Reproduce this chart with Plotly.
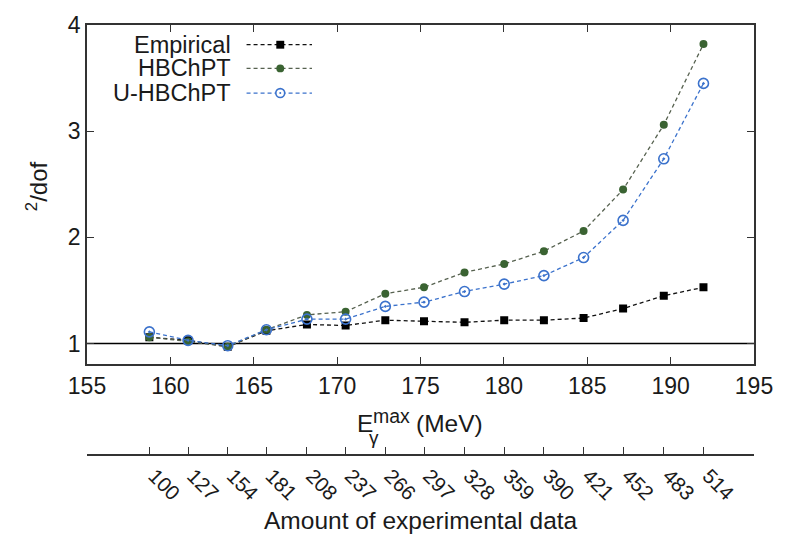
import plotly.graph_objects as go

# ---------------- data ----------------
E_max = [158.74, 161.06, 163.44, 165.76, 168.19, 170.51, 172.89, 175.21,
         177.64, 180.02, 182.40, 184.78, 187.15, 189.59, 191.97]
n_data = ["100", "127", "154", "181", "208", "237", "266", "297",
          "328", "359", "390", "421", "452", "483", "514"]
empirical = [1.06, 1.03, 0.97, 1.12, 1.18, 1.17, 1.22, 1.21,
             1.20, 1.22, 1.22, 1.24, 1.33, 1.45, 1.53]
hbchpt = [1.06, 1.02, 0.97, 1.13, 1.27, 1.30, 1.47, 1.53,
          1.67, 1.75, 1.87, 2.06, 2.45, 3.06, 3.82]
u_hbchpt = [1.11, 1.03, 0.98, 1.13, 1.23, 1.23, 1.35, 1.39,
            1.49, 1.56, 1.64, 1.81, 2.16, 2.74, 3.45]
series_names = ["Empirical", "HBChPT", "U-HBChPT"]
x_ticks = [155, 160, 165, 170, 175, 180, 185, 190, 195]
y_ticks = [1, 2, 3, 4]

# ---------------- style ----------------
W, H = 785, 534
L, R, T, B = 87, 25, 19, 79
PLOT_BOTTOM = 363
FONT = "Liberation Sans, Arial, Helvetica, sans-serif"
TXT = "#1a1a1a"
AX = "#333333"
C_EMP, L_EMP = "#000000", "#111111"
C_HB, L_HB = "#3a6332", "#56614f"
C_U, L_U = "#3b72cc", "#3b72cc"
DASH = "4px,3px"


def px(xp):
    return (xp - L) / (W - L - R)


def py(yp):
    return (H - B - yp) / (H - T - B)


ydom0 = (H - B - PLOT_BOTTOM) / (H - T - B)

fig = go.Figure()
fig.add_trace(go.Scatter(
    x=E_max, y=empirical, mode="lines+markers", name=series_names[0],
    line=dict(color=L_EMP, width=1.3, dash=DASH),
    marker=dict(symbol="square", size=8, color=C_EMP)))
fig.add_trace(go.Scatter(
    x=E_max, y=hbchpt, mode="lines+markers", name=series_names[1],
    line=dict(color=L_HB, width=1.3, dash=DASH),
    marker=dict(symbol="circle", size=8, color=C_HB)))
fig.add_trace(go.Scatter(
    x=E_max, y=u_hbchpt, mode="lines+markers", name=series_names[2],
    line=dict(color=L_U, width=1.3, dash=DASH),
    marker=dict(symbol="circle-open-dot", size=10, color=C_U,
                line=dict(width=1.6, color=C_U))))
# invisible trace carrying the secondary (data amount) axis
fig.add_trace(go.Scatter(
    x=E_max, y=empirical, xaxis="x2", mode="markers",
    marker=dict(opacity=0), hoverinfo="skip", showlegend=False))

shapes = [dict(type="line", xref="paper", yref="y", x0=0, x1=1, y0=1, y1=1,
               line=dict(color="black", width=1.4), layer="below")]
annotations = []

# custom gnuplot-style legend (text left, sample right)
leg_rows = [39, 63, 88]
leg_cols = [(C_EMP, L_EMP, "square"), (C_HB, L_HB, "circle"), (C_U, L_U, "open")]
for name, yrow, (mc, lc, sym) in zip(series_names, leg_rows, leg_cols):
    annotations.append(dict(
        text=name, xref="paper", yref="paper", x=px(234), y=py(yrow),
        xanchor="right", yanchor="middle", showarrow=False,
        font=dict(family=FONT, size=23.5, color=TXT)))
    shapes.append(dict(type="line", xref="paper", yref="paper",
                       x0=px(248), x1=px(314), y0=py(yrow), y1=py(yrow),
                       line=dict(color=lc, width=1.3, dash=DASH)))
    cx = 282
    if sym == "square":
        shapes.append(dict(type="rect", xref="paper", yref="paper",
                           x0=px(cx - 4), x1=px(cx + 4), y0=py(yrow + 4), y1=py(yrow - 4),
                           fillcolor=mc, line=dict(width=0)))
    elif sym == "circle":
        shapes.append(dict(type="circle", xref="paper", yref="paper",
                           x0=px(cx - 4), x1=px(cx + 4), y0=py(yrow + 4), y1=py(yrow - 4),
                           fillcolor=mc, line=dict(width=0)))
    else:
        shapes.append(dict(type="circle", xref="paper", yref="paper",
                           x0=px(cx - 4.5), x1=px(cx + 4.5), y0=py(yrow + 4.5), y1=py(yrow - 4.5),
                           fillcolor="white", line=dict(color=mc, width=1.6)))
        shapes.append(dict(type="circle", xref="paper", yref="paper",
                           x0=px(cx - 1), x1=px(cx + 1), y0=py(yrow + 1), y1=py(yrow - 1),
                           fillcolor=mc, line=dict(width=0)))

# axis titles
annotations += [
    dict(text="<sup>2</sup>/dof", xref="paper", yref="paper", x=px(36), y=py(182),
         textangle=-90, showarrow=False, xanchor="center", yanchor="middle",
         font=dict(family=FONT, size=24, color=TXT)),
    dict(text="E", xref="paper", yref="paper", x=px(367), y=py(423),
         showarrow=False, xanchor="center", yanchor="middle",
         font=dict(family=FONT, size=24.5, color=TXT)),
    dict(text="γ", xref="paper", yref="paper", x=px(377), y=py(437),
         showarrow=False, xanchor="center", yanchor="middle",
         font=dict(family=FONT, size=19, color=TXT)),
    dict(text="max", xref="paper", yref="paper", x=px(394), y=py(415),
         showarrow=False, xanchor="center", yanchor="middle",
         font=dict(family=FONT, size=19.5, color=TXT)),
    dict(text="(MeV)", xref="paper", yref="paper", x=px(453), y=py(423),
         showarrow=False, xanchor="center", yanchor="middle",
         font=dict(family=FONT, size=24.5, color=TXT)),
    dict(text="Amount of experimental data", xref="paper", yref="paper",
         x=px(424), y=py(521), showarrow=False, xanchor="center", yanchor="middle",
         font=dict(family=FONT, size=24.5, color=TXT)),
]

fig.update_layout(
    width=W, height=H, margin=dict(l=L, r=R, t=T, b=B),
    paper_bgcolor="white", plot_bgcolor="white", showlegend=False,
    font=dict(family=FONT, color=TXT),
    xaxis=dict(range=[155, 195], tickvals=x_ticks, anchor="y",
               ticks="inside", ticklen=7, tickwidth=1.3, tickcolor=AX,
               showline=True, linewidth=1.6, linecolor=AX, mirror="ticks",
               showgrid=False, zeroline=False,
               tickfont=dict(size=23, color=TXT)),
    xaxis2=dict(range=[155, 195], overlaying="x", anchor="free", position=0,
                side="bottom",
                tickvals=[155] + E_max + [195], ticktext=[""] + n_data + [""],
                tickangle=45, ticks="inside", ticklen=7, tickwidth=1.3, tickcolor=AX,
                ticklabelshift=5, ticklabelstandoff=0,
                showline=True, linewidth=1.6, linecolor=AX,
                showgrid=False, zeroline=False,
                tickfont=dict(size=20.5, color=TXT)),
    yaxis=dict(range=[0.805, 4.0], domain=[ydom0, 1], tickvals=y_ticks,
               ticks="inside", ticklen=7, tickwidth=1.3, tickcolor=AX,
               showline=True, linewidth=1.6, linecolor=AX, mirror="ticks",
               showgrid=False, zeroline=False,
               tickfont=dict(size=23, color=TXT)),
    shapes=shapes, annotations=annotations,
)

fig.write_html("out.html")
